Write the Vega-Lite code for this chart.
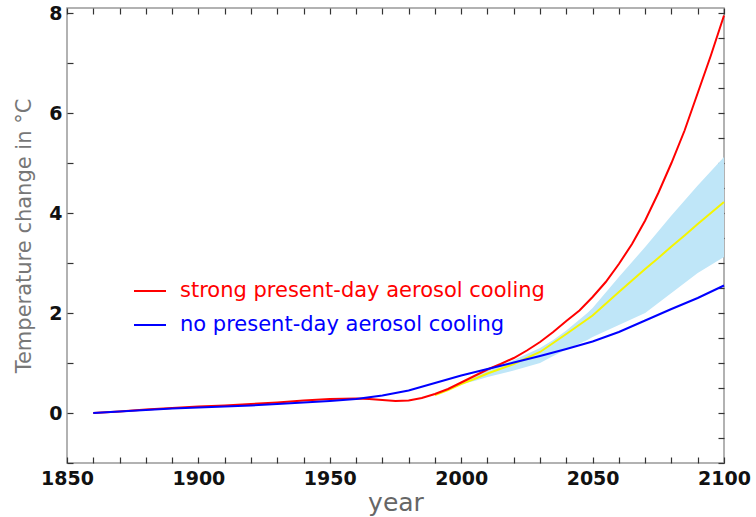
{
  "$schema": "https://vega.github.io/schema/vega-lite/v6.json",
  "autosize": "none",
  "width": 657,
  "height": 455,
  "padding": {"left": 67, "top": 8, "right": 32, "bottom": 54},
  "background": "white",
  "config": {
    "view": {"stroke": "#999999", "strokeWidth": 1.5},
    "font": "DejaVu Sans"
  },
  "datasets": {
    "lines": [
      {"year": 1860, "value": 0, "series": "strong present-day aerosol cooling"},
      {"year": 1870, "value": 0.03, "series": "strong present-day aerosol cooling"},
      {"year": 1880, "value": 0.07, "series": "strong present-day aerosol cooling"},
      {"year": 1890, "value": 0.1, "series": "strong present-day aerosol cooling"},
      {"year": 1900, "value": 0.13, "series": "strong present-day aerosol cooling"},
      {"year": 1910, "value": 0.15, "series": "strong present-day aerosol cooling"},
      {"year": 1920, "value": 0.18, "series": "strong present-day aerosol cooling"},
      {"year": 1930, "value": 0.21, "series": "strong present-day aerosol cooling"},
      {"year": 1940, "value": 0.25, "series": "strong present-day aerosol cooling"},
      {"year": 1950, "value": 0.28, "series": "strong present-day aerosol cooling"},
      {"year": 1960, "value": 0.29, "series": "strong present-day aerosol cooling"},
      {"year": 1965, "value": 0.28, "series": "strong present-day aerosol cooling"},
      {"year": 1970, "value": 0.26, "series": "strong present-day aerosol cooling"},
      {"year": 1975, "value": 0.24, "series": "strong present-day aerosol cooling"},
      {"year": 1980, "value": 0.25, "series": "strong present-day aerosol cooling"},
      {"year": 1985, "value": 0.3, "series": "strong present-day aerosol cooling"},
      {"year": 1990, "value": 0.38, "series": "strong present-day aerosol cooling"},
      {"year": 1995, "value": 0.48, "series": "strong present-day aerosol cooling"},
      {"year": 2000, "value": 0.61, "series": "strong present-day aerosol cooling"},
      {"year": 2005, "value": 0.74, "series": "strong present-day aerosol cooling"},
      {"year": 2010, "value": 0.87, "series": "strong present-day aerosol cooling"},
      {"year": 2015, "value": 0.98, "series": "strong present-day aerosol cooling"},
      {"year": 2020, "value": 1.1, "series": "strong present-day aerosol cooling"},
      {"year": 2025, "value": 1.25, "series": "strong present-day aerosol cooling"},
      {"year": 2030, "value": 1.42, "series": "strong present-day aerosol cooling"},
      {"year": 2035, "value": 1.62, "series": "strong present-day aerosol cooling"},
      {"year": 2040, "value": 1.84, "series": "strong present-day aerosol cooling"},
      {"year": 2045, "value": 2.05, "series": "strong present-day aerosol cooling"},
      {"year": 2050, "value": 2.32, "series": "strong present-day aerosol cooling"},
      {"year": 2055, "value": 2.62, "series": "strong present-day aerosol cooling"},
      {"year": 2060, "value": 2.98, "series": "strong present-day aerosol cooling"},
      {"year": 2065, "value": 3.38, "series": "strong present-day aerosol cooling"},
      {"year": 2070, "value": 3.85, "series": "strong present-day aerosol cooling"},
      {"year": 2075, "value": 4.4, "series": "strong present-day aerosol cooling"},
      {"year": 2080, "value": 5.0, "series": "strong present-day aerosol cooling"},
      {"year": 2085, "value": 5.65, "series": "strong present-day aerosol cooling"},
      {"year": 2090, "value": 6.4, "series": "strong present-day aerosol cooling"},
      {"year": 2095, "value": 7.15, "series": "strong present-day aerosol cooling"},
      {"year": 2100, "value": 7.95, "series": "strong present-day aerosol cooling"},
      {"year": 1860, "value": 0, "series": "no present-day aerosol cooling"},
      {"year": 1870, "value": 0.03, "series": "no present-day aerosol cooling"},
      {"year": 1880, "value": 0.06, "series": "no present-day aerosol cooling"},
      {"year": 1890, "value": 0.09, "series": "no present-day aerosol cooling"},
      {"year": 1900, "value": 0.11, "series": "no present-day aerosol cooling"},
      {"year": 1910, "value": 0.13, "series": "no present-day aerosol cooling"},
      {"year": 1920, "value": 0.15, "series": "no present-day aerosol cooling"},
      {"year": 1930, "value": 0.18, "series": "no present-day aerosol cooling"},
      {"year": 1940, "value": 0.21, "series": "no present-day aerosol cooling"},
      {"year": 1950, "value": 0.24, "series": "no present-day aerosol cooling"},
      {"year": 1960, "value": 0.28, "series": "no present-day aerosol cooling"},
      {"year": 1970, "value": 0.35, "series": "no present-day aerosol cooling"},
      {"year": 1980, "value": 0.45, "series": "no present-day aerosol cooling"},
      {"year": 1990, "value": 0.6, "series": "no present-day aerosol cooling"},
      {"year": 2000, "value": 0.75, "series": "no present-day aerosol cooling"},
      {"year": 2010, "value": 0.88, "series": "no present-day aerosol cooling"},
      {"year": 2020, "value": 1.01, "series": "no present-day aerosol cooling"},
      {"year": 2030, "value": 1.14, "series": "no present-day aerosol cooling"},
      {"year": 2040, "value": 1.28, "series": "no present-day aerosol cooling"},
      {"year": 2050, "value": 1.43, "series": "no present-day aerosol cooling"},
      {"year": 2060, "value": 1.62, "series": "no present-day aerosol cooling"},
      {"year": 2070, "value": 1.85, "series": "no present-day aerosol cooling"},
      {"year": 2080, "value": 2.08, "series": "no present-day aerosol cooling"},
      {"year": 2090, "value": 2.3, "series": "no present-day aerosol cooling"},
      {"year": 2100, "value": 2.55, "series": "no present-day aerosol cooling"}
    ],
    "mean": [
      {"year": 1990, "value": 0.36},
      {"year": 1995, "value": 0.46},
      {"year": 2000, "value": 0.58},
      {"year": 2005, "value": 0.68},
      {"year": 2010, "value": 0.79},
      {"year": 2020, "value": 0.98},
      {"year": 2030, "value": 1.22},
      {"year": 2035, "value": 1.4},
      {"year": 2040, "value": 1.58},
      {"year": 2050, "value": 1.95},
      {"year": 2060, "value": 2.42},
      {"year": 2065, "value": 2.65},
      {"year": 2070, "value": 2.88},
      {"year": 2075, "value": 3.1},
      {"year": 2080, "value": 3.33},
      {"year": 2085, "value": 3.55},
      {"year": 2090, "value": 3.78},
      {"year": 2095, "value": 4.0},
      {"year": 2100, "value": 4.22}
    ],
    "band": [
      {"year": 2000, "lo": 0.58, "hi": 0.6},
      {"year": 2005, "lo": 0.64, "hi": 0.72},
      {"year": 2010, "lo": 0.72, "hi": 0.86},
      {"year": 2020, "lo": 0.85, "hi": 1.06},
      {"year": 2030, "lo": 1.0, "hi": 1.3},
      {"year": 2035, "lo": 1.14, "hi": 1.46},
      {"year": 2040, "lo": 1.27, "hi": 1.65},
      {"year": 2048, "lo": 1.46, "hi": 2.0},
      {"year": 2050, "lo": 1.52, "hi": 2.1},
      {"year": 2060, "lo": 1.76, "hi": 2.72},
      {"year": 2070, "lo": 2.0, "hi": 3.32},
      {"year": 2080, "lo": 2.4, "hi": 3.95},
      {"year": 2090, "lo": 2.8, "hi": 4.55},
      {"year": 2100, "lo": 3.12, "hi": 5.12}
    ]
  },
  "resolve": {"axis": {"x": "independent", "y": "independent"}},
  "layer": [
    {
      "data": {"name": "band"},
      "mark": {"type": "area", "color": "#bfe6f8", "opacity": 1},
      "encoding": {
        "x": {
          "field": "year", "type": "quantitative",
          "scale": {"domain": [1850, 2100], "nice": false, "zero": false},
          "axis": {
            "orient": "bottom",
            "values": [1850,1860,1870,1880,1890,1900,1910,1920,1930,1940,1950,1960,1970,1980,1990,2000,2010,2020,2030,2040,2050,2060,2070,2080,2090,2100],
            "format": "d",
            "labelExpr": "datum.value % 50 === 0 ? datum.label : ''",
            "offset": -6,
            "ticks": true,
            "tickSize": 6,
            "tickColor": "#333333",
            "tickWidth": 1.2,
            "domain": false,
            "grid": false,
            "labelPadding": 6,
            "labelFont": "DejaVu Sans",
            "labelFontWeight": "bold",
            "labelFontSize": 19,
            "labelColor": "#111111",
            "labelFlush": false,
            "labelOverlap": false,
            "title": "year",
            "titleFont": "DejaVu Sans",
            "titleFontWeight": "normal",
            "titleFontSize": 25,
            "titleColor": "#666666",
            "titlePadding": 2
          }
        },
        "y": {
          "field": "lo", "type": "quantitative",
          "scale": {"domain": [-1, 8.1], "nice": false, "zero": false},
          "axis": {
            "orient": "left",
            "values": [-1,-0.5,0,0.5,1,1.5,2,2.5,3,3.5,4,4.5,5,5.5,6,6.5,7,7.5,8],
            "format": "d",
            "labelExpr": "(datum.value >= 0 && datum.value % 2 === 0) ? datum.label : ''",
            "offset": -6,
            "ticks": true,
            "tickSize": 6,
            "tickColor": "#333333",
            "tickWidth": 1.2,
            "domain": false,
            "grid": false,
            "labelPadding": 5,
            "labelFont": "DejaVu Sans",
            "labelFontWeight": "bold",
            "labelFontSize": 19,
            "labelColor": "#111111",
            "labelFlush": false,
            "labelOverlap": false,
            "title": "Temperature change in °C",
            "titleFont": "DejaVu Sans",
            "titleFontWeight": "normal",
            "titleFontSize": 21,
            "titleColor": "#777777",
            "titlePadding": 14
          }
        },
        "y2": {"field": "hi"}
      }
    },
    {
      "mark": {"type": "rule", "color": "#999999", "strokeDash": [2, 4], "strokeWidth": 1.2},
      "encoding": {
        "y": {
          "datum": 0, "type": "quantitative",
          "axis": {
            "orient": "right",
            "values": [-1,-0.5,0,0.5,1,1.5,2,2.5,3,3.5,4,4.5,5,5.5,6,6.5,7,7.5,8],
            "labels": false,
            "offset": -6,
            "ticks": true,
            "tickSize": 6,
            "tickColor": "#333333",
            "tickWidth": 1.2,
            "domain": false,
            "grid": false,
            "title": null
          }
        }
      }
    },
    {
      "data": {"name": "mean"},
      "mark": {"type": "line", "color": "#f5f500", "strokeWidth": 2},
      "encoding": {
        "x": {
          "field": "year", "type": "quantitative",
          "axis": {
            "orient": "top",
            "values": [1850,1860,1870,1880,1890,1900,1910,1920,1930,1940,1950,1960,1970,1980,1990,2000,2010,2020,2030,2040,2050,2060,2070,2080,2090,2100],
            "labels": false,
            "offset": -6,
            "ticks": true,
            "tickSize": 6,
            "tickColor": "#333333",
            "tickWidth": 1.2,
            "domain": false,
            "grid": false,
            "title": null
          }
        },
        "y": {"field": "value", "type": "quantitative", "axis": null}
      }
    },
    {
      "data": {"name": "lines"},
      "transform": [{"filter": "datum.series === 'strong present-day aerosol cooling'"}],
      "mark": {"type": "line", "strokeWidth": 2},
      "encoding": {
        "x": {"field": "year", "type": "quantitative", "axis": null},
        "y": {"field": "value", "type": "quantitative", "axis": null},
        "color": {
          "field": "series", "type": "nominal",
          "scale": {"domain": ["strong present-day aerosol cooling", "no present-day aerosol cooling"], "range": ["#ff0000", "#0000ff"]},
          "legend": {
            "orient": "none",
            "legendX": 66,
            "legendY": 266,
            "title": null,
            "symbolType": "stroke",
            "symbolSize": 1024,
            "symbolStrokeWidth": 2,
            "labelFont": "DejaVu Sans",
            "labelFontSize": 21,
            "labelOffset": 13,
            "labelLimit": 600,
            "rowPadding": 7,
            "encode": {"labels": {"update": {"fill": {"signal": "datum.label === 'no present-day aerosol cooling' ? '#0000ff' : '#ff0000'"}}}}
          }
        }
      }
    },
    {
      "data": {"name": "lines"},
      "transform": [{"filter": "datum.series === 'no present-day aerosol cooling'"}],
      "mark": {"type": "line", "strokeWidth": 2},
      "encoding": {
        "x": {"field": "year", "type": "quantitative", "axis": null},
        "y": {"field": "value", "type": "quantitative", "axis": null},
        "color": {"field": "series", "type": "nominal"}
      }
    }
  ]
}
